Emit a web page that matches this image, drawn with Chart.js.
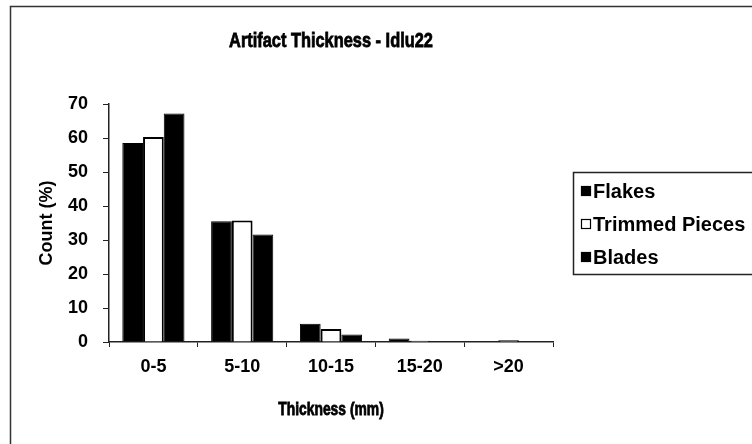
<!DOCTYPE html>
<html>
<head>
<meta charset="utf-8">
<script src="https://cdn.jsdelivr.net/npm/chart.js@4.4.1/dist/chart.umd.min.js"></script>
<style>
  html, body { margin: 0; padding: 0; background: #fff; }
  #wrap { width: 752px; height: 444px; }
</style>
</head>
<body>
<div id="wrap"><canvas id="chart" width="752" height="444"></canvas></div>
<script>
// Thickness classes (mm) and percentage of each artifact type
const categories = ['0-5', '5-10', '10-15', '15-20', '>20'];
const flakes = [58.5, 35.5, 5.4, 1.0, 0];
const trimmedPieces = [60.3, 35.7, 3.8, 0.4, 0.5];
const blades = [67.2, 31.6, 2.2, 0, 0];
const seriesNames = ['Flakes', 'Trimmed Pieces', 'Blades'];
const yMin = 0, yMax = 70, yStep = 10;

const FONT = 'Liberation Sans, Arial, sans-serif';
const INK = '#000';

// Condensed heavy text: drawn at full height, squeezed horizontally
function condensedText(ctx, text, x, y, squeeze) {
  ctx.save();
  ctx.translate(x, y);
  ctx.scale(squeeze, 1);
  ctx.lineWidth = 0.8;
  ctx.strokeStyle = INK;
  ctx.strokeText(text, 0, 0);
  ctx.fillText(text, 0, 0);
  ctx.restore();
}

// Frame, title, axis titles and the boxed legend
const decorations = {
  id: 'decorations',
  beforeDraw(chart) {
    const ctx = chart.ctx;
    ctx.save();
    ctx.fillStyle = '#fff';
    ctx.fillRect(0, 0, chart.width, chart.height);
    ctx.strokeStyle = '#333';
    ctx.lineWidth = 1.5;
    ctx.strokeRect(10.5, 6.5, chart.width + 20, chart.height + 20);
    ctx.restore();
  },
  afterDraw(chart) {
    const ctx = chart.ctx;
    const area = chart.chartArea;
    const cx = (area.left + area.right) / 2;
    ctx.save();
    ctx.fillStyle = INK;
    ctx.textAlign = 'center';
    ctx.textBaseline = 'middle';

    ctx.font = 'bold 21px ' + FONT;
    condensedText(ctx, 'Artifact Thickness - Idlu22', cx, 41, 0.78);

    ctx.font = 'bold 18px ' + FONT;
    condensedText(ctx, 'Thickness (mm)', cx, 410, 0.77);

    ctx.save();
    ctx.translate(47, (area.top + area.bottom) / 2);
    ctx.rotate(-Math.PI / 2);
    ctx.font = 'bold 18px ' + FONT;
    ctx.fillText('Count (%)', 0, 0);
    ctx.restore();

    // legend box
    const lx = 573.5, ly = 172.5, lh = 102;
    ctx.strokeStyle = '#222';
    ctx.lineWidth = 1.5;
    ctx.strokeRect(lx, ly, chart.width - lx + 10, lh);
    const rows = [191, 224, 257];
    const sets = chart.data.datasets;
    ctx.textAlign = 'left';
    ctx.font = 'bold 20px ' + FONT;
    rows.forEach((y, i) => {
      const ds = sets[i];
      ctx.fillStyle = ds.backgroundColor;
      ctx.fillRect(581, y - 5, 10, 10);
      ctx.strokeStyle = '#000';
      ctx.lineWidth = 1.2;
      ctx.strokeRect(581.5, y - 4.5, 9, 9);
      ctx.fillStyle = INK;
      ctx.fillText(ds.label, 593, y + 1);
    });
    ctx.restore();
  }
};

new Chart(document.getElementById('chart'), {
  type: 'bar',
  data: {
    labels: categories,
    datasets: [
      { label: seriesNames[0], data: flakes, backgroundColor: '#000', borderColor: '#000', borderWidth: 1 },
      { label: seriesNames[1], data: trimmedPieces, backgroundColor: '#fff', borderColor: '#000', borderWidth: 2 },
      { label: seriesNames[2], data: blades, backgroundColor: '#000', borderColor: '#000', borderWidth: 1 }
    ]
  },
  options: {
    responsive: false,
    animation: false,
    devicePixelRatio: 1,
    layout: { padding: { left: 0, top: 104, right: 199, bottom: 42 } },
    datasets: { bar: { categoryPercentage: 0.7, barPercentage: 1.0 } },
    plugins: { legend: { display: false }, title: { display: false }, tooltip: { enabled: false } },
    scales: {
      x: {
        afterFit(s) { s.height = 60; },
        grid: { display: true, drawOnChartArea: false, drawTicks: true, tickLength: 5, color: '#222', offset: true },
        border: { display: true, color: '#222', width: 1.5 },
        ticks: { color: INK, padding: 9, maxRotation: 0, autoSkip: false, font: { family: FONT, size: 18, weight: 'bold' } }
      },
      y: {
        min: yMin, max: yMax,
        afterFit(s) { s.width = 109; },
        grid: { display: true, drawOnChartArea: false, drawTicks: true, tickLength: 6, color: '#222' },
        border: { display: true, color: '#222', width: 1.5 },
        ticks: { stepSize: yStep, color: INK, padding: 15, font: { family: FONT, size: 18, weight: 'bold' } }
      }
    }
  },
  plugins: [decorations]
});
</script>
</body>
</html>
